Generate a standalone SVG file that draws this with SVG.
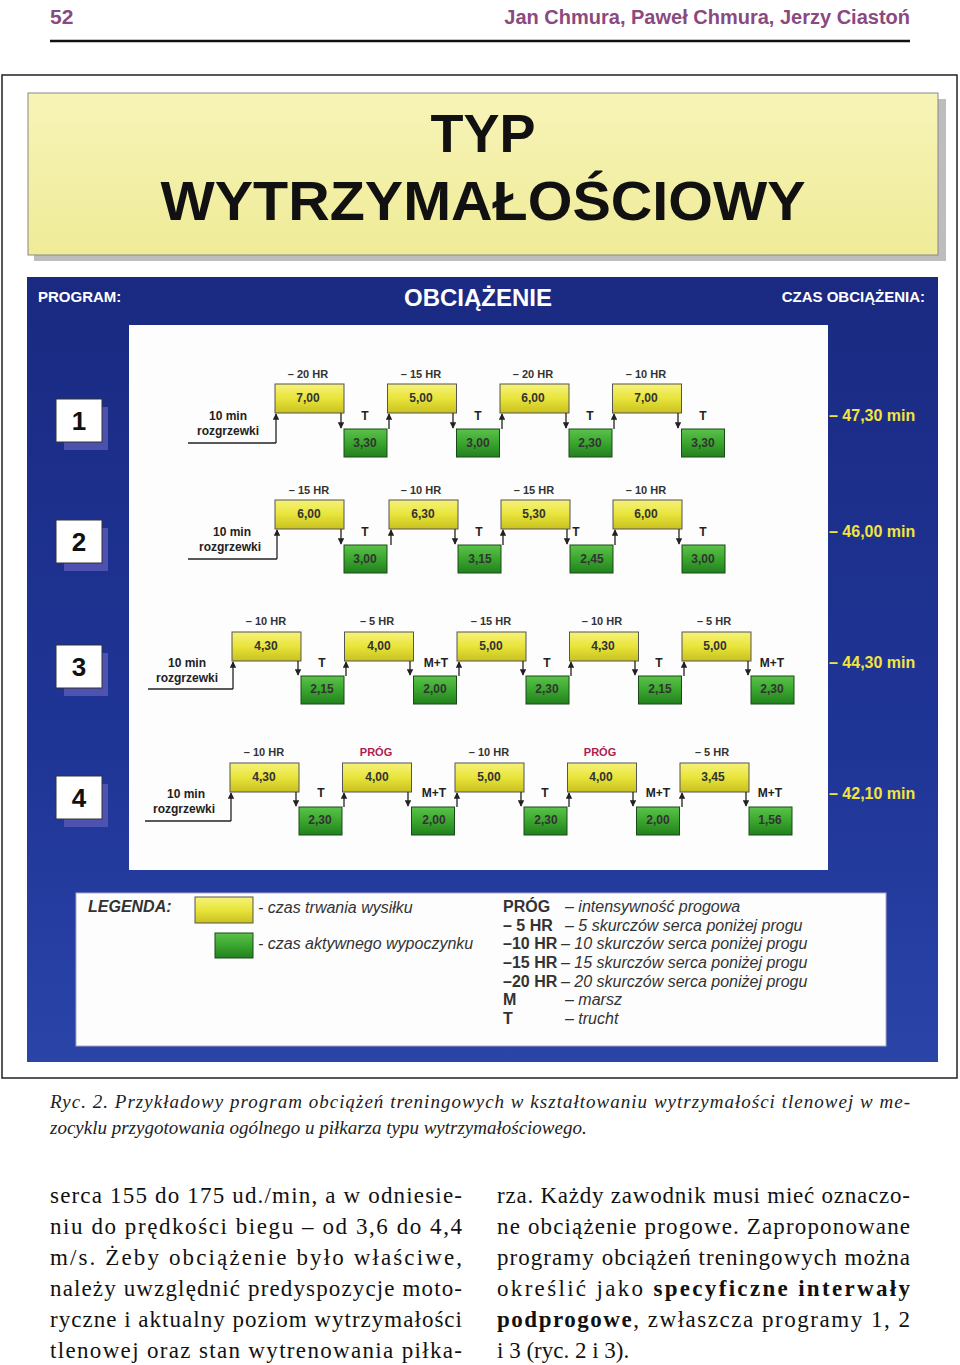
<svg xmlns="http://www.w3.org/2000/svg" width="960" height="1365" viewBox="0 0 960 1365">
<defs>
<linearGradient id="yg" x1="0" y1="0" x2="0" y2="1"><stop offset="0" stop-color="#f6f27a"/><stop offset="0.5" stop-color="#e8e43a"/><stop offset="1" stop-color="#c8c020"/></linearGradient>
<linearGradient id="gg" x1="0" y1="0" x2="0" y2="1"><stop offset="0" stop-color="#5cc24a"/><stop offset="0.5" stop-color="#3aa62e"/><stop offset="1" stop-color="#22801e"/></linearGradient>
<linearGradient id="hg" x1="0" y1="0" x2="0" y2="1"><stop offset="0" stop-color="#f7f4b8"/><stop offset="1" stop-color="#efeb98"/></linearGradient>
<linearGradient id="bg" x1="0" y1="0" x2="0" y2="1"><stop offset="0" stop-color="#1a2a82"/><stop offset="0.6" stop-color="#1f3596"/><stop offset="1" stop-color="#2a44a8"/></linearGradient>
<marker id="ah" viewBox="0 0 10 10" refX="9" refY="5" markerWidth="5" markerHeight="5" orient="auto"><path d="M0,0 L10,5 L0,10 z" fill="#222"/></marker>
</defs>
<style>
.s{font-family:"Liberation Sans",Arial,sans-serif}
.y{fill:url(#yg);stroke:#555;stroke-width:1}
.g{fill:url(#gg);stroke:#1a4a18;stroke-width:1}
.v{font-family:"Liberation Sans",Arial,sans-serif;font-size:12px;font-weight:bold;fill:#333;text-anchor:middle}
.l{font-family:"Liberation Sans",Arial,sans-serif;font-size:11px;font-weight:bold;fill:#333;text-anchor:middle}
.p{fill:#b02050}
.w{font-family:"Liberation Sans",Arial,sans-serif;font-size:12px;font-weight:bold;fill:#222;text-anchor:middle}
.a{stroke:#222;stroke-width:1.3;fill:none;marker-end:url(#ah)}
.ln{stroke:#222;stroke-width:1.3;fill:none}
.tot{font-family:"Liberation Sans",Arial,sans-serif;font-size:16px;font-weight:bold;fill:#f2e43c}
.num{font-family:"Liberation Sans",Arial,sans-serif;font-size:26px;font-weight:bold;fill:#111;text-anchor:middle}
.lg{font-family:"Liberation Sans",Arial,sans-serif;font-size:16px;font-style:italic;fill:#333}
.lb{font-family:"Liberation Sans",Arial,sans-serif;font-size:16px;font-weight:bold;fill:#333}
.cap{font-family:"Liberation Serif","Times New Roman",serif;font-size:19px;font-style:italic;fill:#222}
.bd{font-family:"Liberation Serif","Times New Roman",serif;font-size:23px;fill:#111}
</style>
<rect width="960" height="1365" fill="#fff"/>
<g id="page-header">
<text x="50" y="24" class="s" font-size="21" font-weight="bold" fill="#8a4a80">52</text>
<text x="910" y="24" class="s" font-size="20" font-weight="bold" fill="#8a4a80" text-anchor="end">Jan Chmura, Paweł Chmura, Jerzy Ciastoń</text>
<line x1="50" y1="41" x2="910" y2="41" stroke="#111" stroke-width="2.5"/>
</g>
<rect x="2" y="75" width="955" height="1003" fill="none" stroke="#222" stroke-width="1.5"/>
<g id="title">
<rect x="34" y="99" width="912" height="162" fill="#bdbdbd"/>
<rect x="28" y="93" width="910" height="162" fill="url(#hg)" stroke="#888" stroke-width="1"/>
<text x="483" y="152" class="s" font-size="54" font-weight="bold" fill="#111" text-anchor="middle">TYP</text>
<text x="483" y="220" class="s" font-size="56" font-weight="bold" fill="#111" text-anchor="middle" textLength="645" lengthAdjust="spacingAndGlyphs">WYTRZYMAŁOŚCIOWY</text>
</g>
<g id="panel">
<rect x="27" y="277" width="911" height="785" fill="url(#bg)"/>
<rect x="129" y="325" width="699" height="545" fill="#fdfdfd"/>
<text x="38" y="302" class="s" font-size="15" font-weight="bold" fill="#fff">PROGRAM:</text>
<text x="478" y="306" class="s" font-size="24" font-weight="bold" fill="#fff" text-anchor="middle">OBCIĄŻENIE</text>
<text x="925" y="302" class="s" font-size="15" font-weight="bold" fill="#fff" text-anchor="end">CZAS OBCIĄŻENIA:</text>
</g>
<g id="numbers">
<rect x="64" y="407" width="44" height="43" fill="#5a5ab8" opacity="0.8"/><rect x="56" y="399" width="46" height="43" fill="#fff" stroke="#333"/><text x="79" y="430" class="num">1</text>
<rect x="64" y="528" width="44" height="43" fill="#5a5ab8" opacity="0.8"/><rect x="56" y="520" width="46" height="43" fill="#fff" stroke="#333"/><text x="79" y="551" class="num">2</text>
<rect x="64" y="653" width="44" height="43" fill="#5a5ab8" opacity="0.8"/><rect x="56" y="645" width="46" height="43" fill="#fff" stroke="#333"/><text x="79" y="676" class="num">3</text>
<rect x="64" y="784" width="44" height="43" fill="#5a5ab8" opacity="0.8"/><rect x="56" y="776" width="46" height="43" fill="#fff" stroke="#333"/><text x="79" y="807" class="num">4</text>
</g>
<g id="totals">
<text x="829" y="421" class="tot">– 47,30 min</text>
<text x="829" y="537" class="tot">– 46,00 min</text>
<text x="829" y="668" class="tot">– 44,30 min</text>
<text x="829" y="799" class="tot">– 42,10 min</text>
</g>
<g id="row1">
<text x="228" y="420" class="w">10 min</text><text x="228" y="435" class="w">rozgrzewki</text>
<rect class="y" x="275" y="384" width="69" height="29"/><text class="v" x="308" y="402">7,00</text><text class="l" x="308" y="378">– 20 HR</text>
<rect class="g" x="344" y="429" width="43" height="28"/><text class="v" x="365" y="447">3,30</text><text class="w" x="365" y="420">T</text>
<rect class="y" x="387.5" y="384" width="69" height="29"/><text class="v" x="421" y="402">5,00</text><text class="l" x="421" y="378">– 15 HR</text>
<rect class="g" x="456.5" y="429" width="43" height="28"/><text class="v" x="478" y="447">3,00</text><text class="w" x="478" y="420">T</text>
<rect class="y" x="500" y="384" width="69" height="29"/><text class="v" x="533" y="402">6,00</text><text class="l" x="533" y="378">– 20 HR</text>
<rect class="g" x="569" y="429" width="43" height="28"/><text class="v" x="590" y="447">2,30</text><text class="w" x="590" y="420">T</text>
<rect class="y" x="612.5" y="384" width="69" height="29"/><text class="v" x="646" y="402">7,00</text><text class="l" x="646" y="378">– 10 HR</text>
<rect class="g" x="681.5" y="429" width="43" height="28"/><text class="v" x="703" y="447">3,30</text><text class="w" x="703" y="420">T</text>
</g>
<g id="row2">
<text x="232" y="536" class="w">10 min</text><text x="230" y="551" class="w">rozgrzewki</text>
<rect class="y" x="275" y="500" width="69" height="29"/><text class="v" x="309" y="518">6,00</text><text class="l" x="309" y="494">– 15 HR</text>
<rect class="g" x="344" y="545" width="43" height="28"/><text class="v" x="365" y="563">3,00</text><text class="w" x="365" y="536">T</text>
<rect class="y" x="389" y="500" width="69" height="29"/><text class="v" x="423" y="518">6,30</text><text class="l" x="421" y="494">– 10 HR</text>
<rect class="g" x="458" y="545" width="43" height="28"/><text class="v" x="480" y="563">3,15</text><text class="w" x="479" y="536">T</text>
<rect class="y" x="501" y="500" width="69" height="29"/><text class="v" x="534" y="518">5,30</text><text class="l" x="534" y="494">– 15 HR</text>
<rect class="g" x="570" y="545" width="43" height="28"/><text class="v" x="592" y="563">2,45</text><text class="w" x="576" y="536">T</text>
<rect class="y" x="613" y="500" width="69" height="29"/><text class="v" x="646" y="518">6,00</text><text class="l" x="646" y="494">– 10 HR</text>
<rect class="g" x="682" y="545" width="43" height="28"/><text class="v" x="703" y="563">3,00</text><text class="w" x="703" y="536">T</text>
</g>
<g id="row3">
<text x="187" y="667" class="w">10 min</text><text x="187" y="682" class="w">rozgrzewki</text>
<rect class="y" x="232" y="632" width="69" height="29"/><text class="v" x="266" y="650">4,30</text><text class="l" x="266" y="625">– 10 HR</text>
<rect class="g" x="301" y="676" width="43" height="28"/><text class="v" x="322" y="693">2,15</text><text class="w" x="322" y="667">T</text>
<rect class="y" x="344.5" y="632" width="69" height="29"/><text class="v" x="379" y="650">4,00</text><text class="l" x="377" y="625">– 5 HR</text>
<rect class="g" x="413.5" y="676" width="43" height="28"/><text class="v" x="435" y="693">2,00</text><text class="w" x="436" y="667">M+T</text>
<rect class="y" x="457" y="632" width="69" height="29"/><text class="v" x="491" y="650">5,00</text><text class="l" x="491" y="625">– 15 HR</text>
<rect class="g" x="526" y="676" width="43" height="28"/><text class="v" x="547" y="693">2,30</text><text class="w" x="547" y="667">T</text>
<rect class="y" x="569.5" y="632" width="69" height="29"/><text class="v" x="603" y="650">4,30</text><text class="l" x="602" y="625">– 10 HR</text>
<rect class="g" x="638.5" y="676" width="43" height="28"/><text class="v" x="660" y="693">2,15</text><text class="w" x="659" y="667">T</text>
<rect class="y" x="682" y="632" width="69" height="29"/><text class="v" x="715" y="650">5,00</text><text class="l" x="714" y="625">– 5 HR</text>
<rect class="g" x="751" y="676" width="43" height="28"/><text class="v" x="772" y="693">2,30</text><text class="w" x="772" y="667">M+T</text>
</g>
<g id="row4">
<text x="186" y="798" class="w">10 min</text><text x="184" y="813" class="w">rozgrzewki</text>
<rect class="y" x="230" y="763" width="69" height="29"/><text class="v" x="264" y="781">4,30</text><text class="l" x="264" y="756">– 10 HR</text>
<rect class="g" x="299" y="807" width="43" height="28"/><text class="v" x="320" y="824">2,30</text><text class="w" x="321" y="797">T</text>
<rect class="y" x="342.5" y="763" width="69" height="29"/><text class="v" x="377" y="781">4,00</text><text class="l p" x="376" y="756">PRÓG</text>
<rect class="g" x="411.5" y="807" width="43" height="28"/><text class="v" x="434" y="824">2,00</text><text class="w" x="434" y="797">M+T</text>
<rect class="y" x="455" y="763" width="69" height="29"/><text class="v" x="489" y="781">5,00</text><text class="l" x="489" y="756">– 10 HR</text>
<rect class="g" x="524" y="807" width="43" height="28"/><text class="v" x="546" y="824">2,30</text><text class="w" x="545" y="797">T</text>
<rect class="y" x="567.5" y="763" width="69" height="29"/><text class="v" x="601" y="781">4,00</text><text class="l p" x="600" y="756">PRÓG</text>
<rect class="g" x="636.5" y="807" width="43" height="28"/><text class="v" x="658" y="824">2,00</text><text class="w" x="658" y="797">M+T</text>
<rect class="y" x="680" y="763" width="69" height="29"/><text class="v" x="713" y="781">3,45</text><text class="l" x="712" y="756">– 5 HR</text>
<rect class="g" x="749" y="807" width="43" height="28"/><text class="v" x="770" y="824">1,56</text><text class="w" x="770" y="797">M+T</text>
</g>
<g id="connectors">
<path class="ln" d="M188,443 H276"/><path class="a" d="M276,443 V414"/>
<path class="a" d="M341,413 V428"/><path class="a" d="M389,429 V414"/>
<path class="a" d="M453,413 V428"/><path class="a" d="M502,429 V414"/>
<path class="a" d="M566,413 V428"/><path class="a" d="M614,429 V414"/>
<path class="a" d="M678,413 V428"/>
<path class="ln" d="M188,559 H277"/><path class="a" d="M277,559 V530"/>
<path class="a" d="M341,529 V544"/><path class="a" d="M391,545 V530"/>
<path class="a" d="M455,529 V544"/><path class="a" d="M503,545 V530"/>
<path class="a" d="M567,529 V544"/><path class="a" d="M615,545 V530"/>
<path class="a" d="M679,529 V544"/>
<path class="ln" d="M148,689 H233"/><path class="a" d="M233,689 V662"/>
<path class="a" d="M298,661 V675"/><path class="a" d="M346,676 V662"/>
<path class="a" d="M410,661 V675"/><path class="a" d="M459,676 V662"/>
<path class="a" d="M523,661 V675"/><path class="a" d="M571,676 V662"/>
<path class="a" d="M635,661 V675"/><path class="a" d="M684,676 V662"/>
<path class="a" d="M748,661 V675"/>
<path class="ln" d="M145,821 H231"/><path class="a" d="M231,821 V793"/>
<path class="a" d="M296,792 V806"/><path class="a" d="M344,807 V793"/>
<path class="a" d="M408,792 V806"/><path class="a" d="M457,807 V793"/>
<path class="a" d="M521,792 V806"/><path class="a" d="M569,807 V793"/>
<path class="a" d="M633,792 V806"/><path class="a" d="M682,807 V793"/>
<path class="a" d="M746,792 V806"/>
</g>
<g id="legend">
<rect x="76" y="893" width="810" height="153" fill="#fdfdfd" stroke="#aab" stroke-width="1"/>
<text x="88" y="912" class="lb" font-style="italic" font-size="15">LEGENDA:</text>
<rect class="y" x="195" y="897" width="58" height="26"/>
<text x="258" y="913" class="lg">- czas trwania wysiłku</text>
<rect class="g" x="215" y="933" width="38" height="25"/>
<text x="258" y="949" class="lg">- czas aktywnego wypoczynku</text>
<text x="503" y="912" class="lb">PRÓG</text><text x="565" y="912" class="lg">– intensywność progowa</text>
<text x="503" y="931" class="lb">– 5 HR</text><text x="565" y="931" class="lg">– 5 skurczów serca poniżej progu</text>
<text x="503" y="949" class="lb">–10 HR</text><text x="561" y="949" class="lg">– 10 skurczów serca poniżej progu</text>
<text x="503" y="968" class="lb">–15 HR</text><text x="561" y="968" class="lg">– 15 skurczów serca poniżej progu</text>
<text x="503" y="987" class="lb">–20 HR</text><text x="561" y="987" class="lg">– 20 skurczów serca poniżej progu</text>
<text x="503" y="1005" class="lb">M</text><text x="565" y="1005" class="lg">– marsz</text>
<text x="503" y="1024" class="lb">T</text><text x="565" y="1024" class="lg">– trucht</text>
</g>
<g id="caption">
<text x="50" y="1108" class="cap" textLength="860" lengthAdjust="spacing">Ryc. 2. Przykładowy program obciążeń treningowych w kształtowaniu wytrzymałości tlenowej w me-</text>
<text x="50" y="1134" class="cap">zocyklu przygotowania ogólnego u piłkarza typu wytrzymałościowego.</text>
</g>
<g id="body">
<text x="50" y="1203" class="bd" textLength="412" lengthAdjust="spacing">serca 155 do 175 ud./min, a w odniesie-</text>
<text x="50" y="1234" class="bd" textLength="412" lengthAdjust="spacing">niu do prędkości biegu – od 3,6 do 4,4</text>
<text x="50" y="1265" class="bd" textLength="412" lengthAdjust="spacing">m/s. Żeby obciążenie było właściwe,</text>
<text x="50" y="1296" class="bd" textLength="412" lengthAdjust="spacing">należy uwzględnić predyspozycje moto-</text>
<text x="50" y="1327" class="bd" textLength="412" lengthAdjust="spacing">ryczne i aktualny poziom wytrzymałości</text>
<text x="50" y="1358" class="bd" textLength="412" lengthAdjust="spacing">tlenowej oraz stan wytrenowania piłka-</text>
<text x="497" y="1203" class="bd" textLength="413" lengthAdjust="spacing">rza. Każdy zawodnik musi mieć oznaczo-</text>
<text x="497" y="1234" class="bd" textLength="413" lengthAdjust="spacing">ne obciążenie progowe. Zaproponowane</text>
<text x="497" y="1265" class="bd" textLength="413" lengthAdjust="spacing">programy obciążeń treningowych można</text>
<text x="497" y="1296" class="bd" textLength="413" lengthAdjust="spacing">określić jako <tspan font-weight="bold">specyficzne interwały</tspan></text>
<text x="497" y="1327" class="bd" textLength="413" lengthAdjust="spacing"><tspan font-weight="bold">podprogowe</tspan>, zwłaszcza programy 1, 2</text>
<text x="497" y="1358" class="bd">i 3 (ryc. 2 i 3).</text>
</g>
</svg>
